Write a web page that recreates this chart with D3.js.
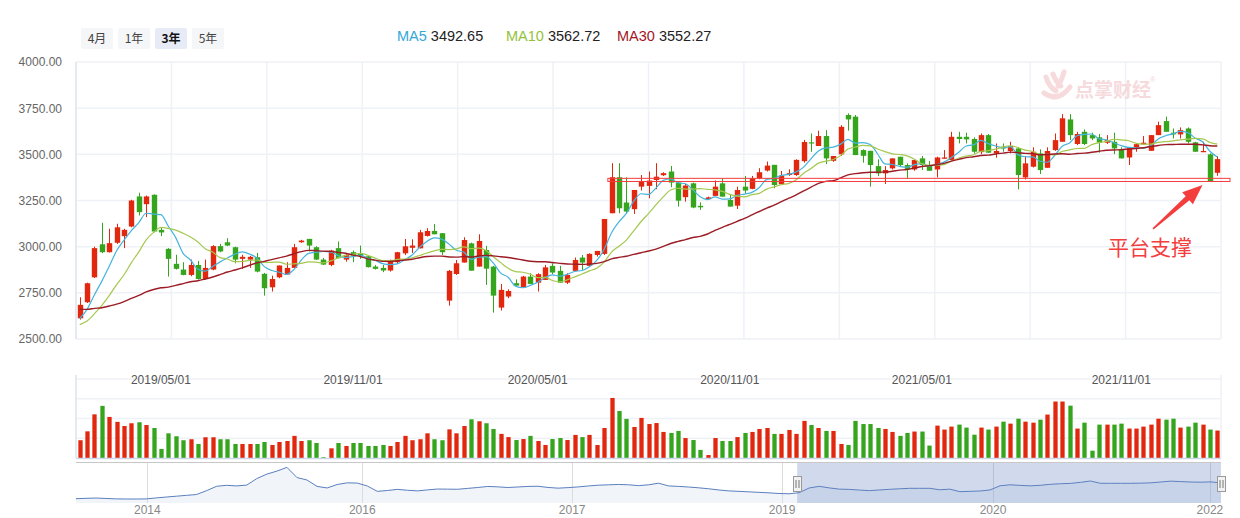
<!DOCTYPE html>
<html><head><meta charset="utf-8">
<script src="https://cdn.jsdelivr.net/npm/d3@7"></script>
<style>
body{margin:0;background:#fff;}
svg{display:block;font-family:"Liberation Sans",Arial,"Noto Sans CJK SC",sans-serif;}
</style></head>
<body><svg id="c" width="1240" height="518"></svg>
<script>
// ---------------- DATA ----------------
const rangeButtons = ["4月", "1年", "3年", "5年"];
const selectedButton = "3年";
const legendNames = ["MA5", "MA10", "MA30"];
const legendValues = ["3492.65", "3562.72", "3552.27"];

const opens = [2612,2699,2834,3013,2970,3021,3057,3109,3272,3230,3281,3091,2988,2907,2876,2847,2901,2825,2876,3003,
3024,2997,2934,2930,2943,2853,2780,2834,2849,2885,3024,3042,2997,2930,2901,2992,2930,2970,2961,2948,
2892,2885,2871,2916,2964,2994,2991,3058,3085,3073,2708,2852,2914,3018,2892,2982,2892,2670,2730,2802,
2780,2838,2805,2820,2896,2869,2805,2869,2941,2896,2955,2961,3181,3376,3239,3203,3325,3329,3361,3387,
3407,3347,3268,3343,3221,3257,3275,3343,3253,3222,3325,3313,3370,3412,3443,3338,3388,3388,3463,3565,
3545,3599,3465,3500,3713,3704,3523,3519,3436,3397,3424,3487,3442,3418,3478,3442,3418,3476,3469,3595,
3595,3583,3512,3604,3505,3541,3518,3532,3375,3433,3505,3427,3523,3568,3689,3556,3622,3604,3592,3563,
3568,3527,3483,3537,3554,3519,3604,3680,3617,3608,3640,3565,3512,3500,3400];
const highs = [2726,2805,3000,3129,3097,3124,3097,3254,3292,3277,3283,3106,2992,2956,2916,2930,2923,2930,3008,3015,
3046,3000,2956,2950,2966,2858,2843,2898,2916,3015,3037,3042,3003,2939,2983,3028,2961,2979,3006,2950,
2901,2901,2930,2972,3042,3040,3091,3100,3123,3073,2874,2928,3051,3022,3067,3004,2896,2798,2769,2823,
2842,2856,2856,2901,2910,2896,2856,2941,2955,2964,2977,3150,3452,3452,3376,3307,3388,3407,3452,3403,
3437,3352,3340,3347,3240,3271,3358,3370,3280,3325,3383,3383,3425,3461,3443,3410,3419,3473,3578,3613,
3628,3631,3491,3658,3722,3713,3527,3519,3473,3436,3478,3487,3451,3469,3491,3464,3487,3523,3622,3622,
3617,3592,3613,3610,3559,3559,3568,3538,3490,3538,3527,3538,3613,3718,3718,3622,3635,3617,3610,3604,
3617,3538,3536,3559,3599,3604,3677,3704,3640,3646,3646,3568,3568,3505,3490];
const lows = [2605,2695,2830,2965,2968,3015,2992,3105,3169,3160,3078,3057,2838,2876,2845,2840,2822,2822,2872,2970,
3003,2910,2880,2885,2861,2735,2757,2829,2849,2885,3021,2974,2928,2901,2894,2936,2919,2916,2934,2887,
2876,2862,2865,2907,2955,2966,2991,3055,3067,2955,2681,2847,2914,2870,2892,2793,2643,2654,2721,2789,
2777,2798,2757,2820,2852,2805,2798,2869,2874,2892,2946,2955,3181,3181,3177,3177,3304,3262,3311,3383,
3322,3217,3244,3208,3199,3257,3275,3271,3217,3204,3289,3311,3365,3407,3316,3338,3383,3383,3455,3514,
3545,3447,3460,3491,3628,3496,3455,3325,3382,3339,3418,3436,3370,3411,3415,3411,3375,3476,3469,3559,
3559,3505,3501,3509,3482,3514,3505,3310,3364,3429,3393,3427,3519,3568,3577,3550,3550,3577,3509,3556,
3501,3478,3442,3514,3554,3519,3604,3622,3586,3586,3559,3514,3512,3352,3384];
const closes = [2685,2802,2992,2970,3019,3105,3091,3250,3187,3272,3082,3077,2934,2880,2847,2901,2825,2885,3003,2974,
3006,2930,2945,2945,2865,2775,2825,2898,2885,2997,3033,3006,2930,2903,2979,2938,2956,2952,2950,2889,
2880,2871,2925,2970,3002,3006,3078,3085,3067,2970,2869,2910,3036,2870,3031,2881,2735,2766,2760,2789,
2838,2798,2851,2888,2860,2805,2847,2928,2914,2961,2977,3150,3376,3208,3190,3307,3352,3358,3379,3398,
3347,3249,3331,3212,3213,3267,3325,3271,3217,3307,3304,3370,3403,3439,3334,3385,3398,3470,3567,3559,
3599,3478,3491,3649,3689,3496,3492,3442,3397,3415,3478,3442,3418,3469,3442,3411,3483,3483,3595,3583,
3581,3514,3604,3509,3518,3532,3545,3388,3451,3514,3415,3518,3577,3695,3604,3610,3556,3586,3563,3577,
3532,3478,3536,3555,3563,3604,3658,3622,3608,3631,3568,3514,3518,3352,3474];
// 29 weekly closes preceding the visible window (estimated), used only to seed the moving averages
const priorCloses = [2831,2829,2873,2740,2795,2669,2729,2725,2702,2681,2797,2821,2606,2550,2598,2676,2599,2679,2579,2588,
2606,2594,2516,2494,2514,2554,2596,2601,2618];
const volumes = [90,135,221,264,208,183,162,176,181,167,152,46,125,110,90,95,71,105,105,95,
95,71,71,71,71,81,66,81,86,112,86,90,76,4,49,76,61,76,76,61,
61,66,61,81,112,90,95,125,95,90,145,125,162,196,186,176,147,122,106,91,
96,112,86,66,96,101,91,117,106,117,66,152,304,238,198,157,203,172,177,132,
127,137,101,91,41,15,101,86,86,106,127,132,147,152,122,122,142,122,188,167,
152,137,137,71,66,188,172,172,152,147,132,112,127,134,134,63,164,144,159,169,
154,118,154,144,159,184,174,199,184,179,194,220,286,286,265,149,179,37,169,169,
169,174,149,149,159,169,199,194,199,154,159,179,169,144,139];

const yTicks = [2500, 2750, 3000, 3250, 3500, 3750, 4000];
const dateLabels = ["2019/05/01", "2019/11/01", "2020/05/01", "2020/11/01", "2021/05/01", "2021/11/01"];
const dateLabelAt = [11, 37, 62, 88, 114, 141];

const supportBand = [3353, 3370];
const supportFrom = 72;
const annotationText = "平台支撑";

const navValues = [2029,2065,2092,2052,2012,2000,2000,2010,2105,2190,2270,2350,2430,2800,3220,3315,3255,3335,3960,4390,
4675,5040,4060,3824,3210,3060,3390,3550,3530,3250,2735,2815,2925,2840,2778,2875,2958,2945,2935,3020,
3105,3207,3165,3105,3155,3208,3225,3110,3040,3093,3160,3250,3325,3360,3397,3365,3285,3360,3517,3255,
3210,3150,3073,2980,2866,2778,2733,2686,2640,2590,2528,2500,2605,3058,3215,3065,2947,2924,2857,2803,
2868,2931,2980,3027,3027,3027,2885,2945,2704,2736,2768,2870,3270,3363,3307,3262,3315,3411,3463,3497,
3598,3728,3507,3507,3507,3507,3522,3550,3633,3715,3672,3628,3615,3644,3540];
const navTickLabels = ["2014", "2016", "2017", "2019", "2020", "2022"];
const navTickAt = [7.1, 28.5, 49.4, 70.3, 91.3, 112.9];
const navSelection = [71.8, 114];

// ---------------- LAYOUT / STYLE ----------------
const C = {
  up: "#e2270f", down: "#36a51e",
  ma: ["#45b4dc", "#a5c84e", "#9c1c25"],
  maText: ["#34a7d7", "#93c23a", "#a3151f"],
  grid: "#eef1f6", axis: "#dde3ee", label: "#666", annot: "#f43d3d"
};
const plotL = 76, plotR = 1221;
const priceTop = 62, priceBot = 339, volTop = 379, volBot = 458, navTop = 463, navBot = 503;

const svg = d3.select("#c");
const n = closes.length;
const x = d3.scaleBand().domain(d3.range(n)).range([plotL, plotR]);
const bw = x.bandwidth();
const xc = i => x(i) + bw / 2;
const xIdx = d3.scaleLinear().domain([0, n - 1]).range([xc(0), xc(n - 1)]);
const y = d3.scaleLinear().domain([2500, 4000]).range([priceBot, priceTop]);
const yv = d3.scaleLinear().domain([0, 400]).range([volBot, volTop]);

// ---------- buttons ----------
const btn = svg.append("g").attr("font-family", "'Noto Sans CJK SC',sans-serif");
rangeButtons.forEach((t, k) => {
  const bx = 81 + k * 37;
  const sel = t === selectedButton;
  btn.append("rect").attr("x", bx).attr("y", 28).attr("width", 32).attr("height", 21).attr("rx", 2)
    .attr("fill", sel ? "#e6ebf5" : "#f5f6f8");
  btn.append("text").attr("x", bx + 16).attr("y", 43).attr("text-anchor", "middle")
    .attr("font-size", 12).attr("font-weight", sel ? "bold" : "normal")
    .attr("fill", sel ? "#111" : "#444").text(t);
});

// ---------- legend ----------
const legX = [397, 506, 617];
legendNames.forEach((nm, k) => {
  const t = svg.append("text").attr("x", legX[k]).attr("y", 41).attr("font-size", 14.5);
  t.append("tspan").attr("fill", C.maText[k]).text(nm);
  t.append("tspan").attr("fill", "#222").attr("dx", 4).text(legendValues[k]);
});

// ---------- price grid ----------
const g = svg.append("g");
g.selectAll(".hg").data(yTicks).join("line")
  .attr("x1", plotL).attr("x2", plotR).attr("y1", d => y(d)).attr("y2", d => y(d))
  .attr("stroke", C.grid).attr("stroke-width", 1.5);
g.selectAll(".vg").data(d3.range(13)).join("line")
  .attr("x1", k => plotL + k * (plotR - plotL) / 12).attr("x2", k => plotL + k * (plotR - plotL) / 12)
  .attr("y1", priceTop).attr("y2", priceBot)
  .attr("stroke", k => k === 0 ? C.axis : C.grid).attr("stroke-width", 1.5);

const yAxis = svg.append("g").attr("transform", `translate(${plotL},0)`)
  .call(d3.axisLeft(y).tickValues(yTicks).tickFormat(d3.format(".2f")).tickSize(0).tickPadding(14));
yAxis.select(".domain").remove();
yAxis.selectAll("text").attr("font-size", 12).attr("fill", C.label).attr("font-family", "'Liberation Sans',Arial,sans-serif");

// ---------- watermark ----------
const wm = svg.append("g").attr("opacity", 0.9);
wm.append("path").attr("d", "M1046,77 q3,10 10,14 M1053,74 q3,8 8,12 M1064,72 q-2,8 -6,14 M1044,93 q14,10 26,-6")
  .attr("fill", "none").attr("stroke", "#f6d6d9").attr("stroke-width", 5).attr("stroke-linecap", "round");
wm.append("text").attr("x", 1075).attr("y", 97).attr("font-size", 19).attr("font-weight", "bold")
  .attr("font-family", "'Noto Sans CJK SC',sans-serif").attr("fill", "#f6d6d9").text("点掌财经");
wm.append("text").attr("x", 1150).attr("y", 82).attr("font-size", 7).attr("fill", "#f3d3d6").text("®");

// ---------- candles ----------
const cw = 5.4;
const cg = svg.append("g");
const idx = d3.range(n);
const isUp = i => closes[i] >= opens[i];
cg.selectAll(".wick").data(idx).join("line")
  .attr("x1", i => Math.round(xc(i)) + 0.5).attr("x2", i => Math.round(xc(i)) + 0.5)
  .attr("y1", i => y(highs[i])).attr("y2", i => y(lows[i]))
  .attr("stroke", i => isUp(i) ? C.up : C.down).attr("stroke-width", 1);
cg.selectAll(".body").data(idx).join("rect")
  .attr("x", i => Math.round(xc(i)) + 0.5 - cw / 2).attr("width", cw)
  .attr("y", i => y(Math.max(opens[i], closes[i])))
  .attr("height", i => Math.max(1.2, Math.abs(y(opens[i]) - y(closes[i]))))
  .attr("fill", i => isUp(i) ? C.up : C.down);

// ---------- moving averages ----------
const allCloses = priorCloses.concat(closes);
const off = priorCloses.length;
function ma(p) { return idx.map(i => d3.mean(allCloses.slice(i + off - p + 1, i + off + 1))); }
[5, 10, 30].forEach((p, k) => {
  const vals = ma(p);
  svg.append("path").datum(vals)
    .attr("d", d3.line().x((d, i) => xc(i)).y(d => y(d)).curve(d3.curveMonotoneX))
    .attr("fill", "none").attr("stroke", C.ma[k]).attr("stroke-width", k === 2 ? 1.4 : 1.2);
});

// ---------- support band + annotation ----------
svg.append("rect").attr("x", x(supportFrom)).attr("y", y(supportBand[1]))
  .attr("width", plotR + 9 - x(supportFrom)).attr("height", y(supportBand[0]) - y(supportBand[1]))
  .attr("fill", "none").attr("stroke", C.annot).attr("stroke-width", 1);

const T = [xIdx(145.3), y(3096)], P = [xIdx(152), y(3334)];
const L = Math.hypot(P[0] - T[0], P[1] - T[1]);
const u = [(P[0] - T[0]) / L, (P[1] - T[1]) / L], nr = [-u[1], u[0]];
const B = [P[0] - u[0] * 20, P[1] - u[1] * 20];
const pt = (b, s) => [b[0] + nr[0] * s, b[1] + nr[1] * s];
svg.append("path").attr("d", d3.line()([pt(T, 0.8), pt(B, 2.8), pt(B, 8), P, pt(B, -8), pt(B, -2.8), pt(T, -0.8)]) + "Z")
  .attr("fill", C.annot);
svg.append("text").attr("x", xIdx(144.9)).attr("y", y(2955)).attr("text-anchor", "middle")
  .attr("font-size", 21).attr("font-family", "'Noto Sans CJK SC',sans-serif").attr("fill", C.annot).text(annotationText);

// ---------- volume panel ----------
const vg = svg.append("g");
vg.selectAll(".vgl").data([100, 200, 300, 400]).join("line")
  .attr("x1", plotL).attr("x2", plotR).attr("y1", d => yv(d)).attr("y2", d => yv(d))
  .attr("stroke", C.grid).attr("stroke-width", 1.5);
vg.append("line").attr("x1", plotL).attr("x2", plotL).attr("y1", volTop - 4).attr("y2", volBot).attr("stroke", C.axis).attr("stroke-width", 1.5);
vg.append("line").attr("x1", plotR).attr("x2", plotR).attr("y1", volTop - 4).attr("y2", volBot).attr("stroke", C.grid).attr("stroke-width", 1.5);
const vw = 4.3;
vg.selectAll(".vb").data(idx).join("rect")
  .attr("x", i => Math.round(xc(i)) + 0.5 - vw / 2).attr("width", vw)
  .attr("y", i => yv(volumes[i])).attr("height", i => volBot - yv(volumes[i]))
  .attr("fill", i => isUp(i) ? C.up : C.down);
vg.append("line").attr("x1", plotL).attr("x2", plotR).attr("y1", volBot + 0.5).attr("y2", volBot + 0.5)
  .attr("stroke", "#cdd7ea").attr("stroke-width", 1.5);
vg.selectAll(".dl").data(dateLabels).join("text")
  .attr("x", (d, k) => xc(dateLabelAt[k])).attr("y", 384).attr("text-anchor", "middle")
  .attr("font-size", 12).attr("fill", "#555").text(d => d);

// ---------- navigator ----------
const nx = d3.scaleLinear().domain([0, navValues.length - 1]).range([plotL, plotR]);
const ny = d3.scaleLinear().domain([1616, 5456]).range([navBot, navTop]);
const ng = svg.append("g");
ng.append("path").datum(navValues)
  .attr("d", d3.area().x((d, i) => nx(i)).y0(navBot).y1(d => ny(d)))
  .attr("fill", "#f1f5fa");
ng.selectAll(".ntl").data(navTickAt).join("line")
  .attr("x1", d => Math.round(nx(d)) + 0.5).attr("x2", d => Math.round(nx(d)) + 0.5)
  .attr("y1", navTop).attr("y2", navBot).attr("stroke", "#dcdcdc").attr("stroke-width", 1);
ng.append("path").datum(navValues)
  .attr("d", d3.line().x((d, i) => nx(i)).y(d => ny(d)))
  .attr("fill", "none").attr("stroke", "#5a7fbe").attr("stroke-width", 1);
ng.append("rect").attr("x", nx(navSelection[0])).attr("y", navTop)
  .attr("width", nx(navSelection[1]) - nx(navSelection[0])).attr("height", navBot - navTop)
  .attr("fill", "rgba(102,133,194,0.3)");
ng.append("line").attr("x1", plotL).attr("x2", plotR).attr("y1", navTop - 0.5).attr("y2", navTop - 0.5)
  .attr("stroke", "#c8c8c8").attr("stroke-width", 1);
navSelection.forEach(s => {
  const hx = Math.round(nx(s)) - 4 + 0.5;
  ng.append("rect").attr("x", hx).attr("y", 476.5).attr("width", 8).attr("height", 15)
    .attr("fill", "#f2f2f2").attr("stroke", "#999").attr("stroke-width", 1);
  [-1.5, 1.5].forEach(dx => ng.append("line").attr("x1", hx + 4 + dx).attr("x2", hx + 4 + dx)
    .attr("y1", 480).attr("y2", 488).attr("stroke", "#777").attr("stroke-width", 1));
});
ng.selectAll(".ntx").data(navTickLabels).join("text")
  .attr("x", (d, k) => nx(navTickAt[k])).attr("y", 514).attr("text-anchor", "middle")
  .attr("font-size", 12).attr("fill", "#888").text(d => d);
</script></body></html>
